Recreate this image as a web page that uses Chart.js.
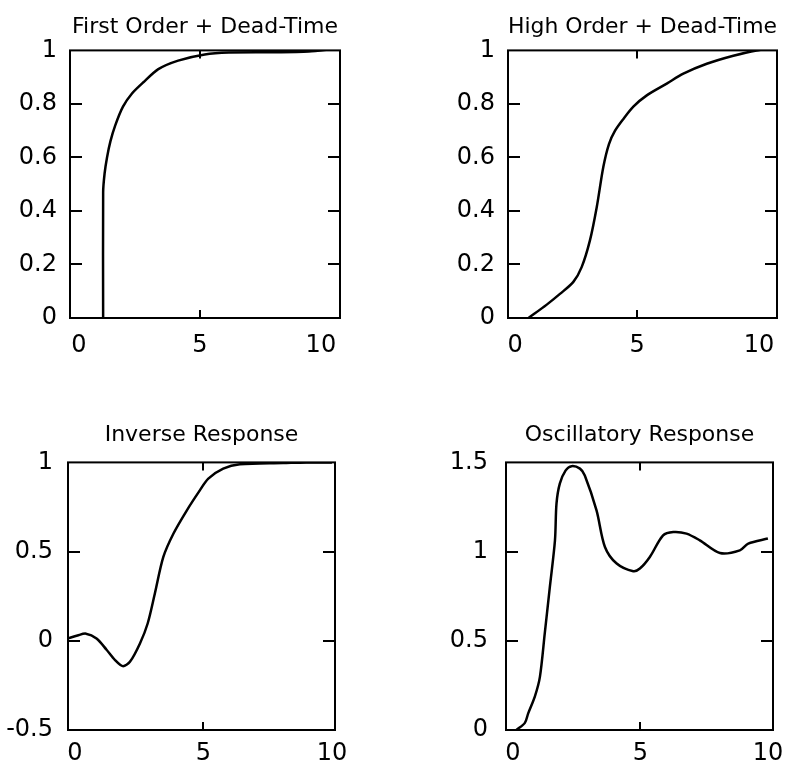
<!DOCTYPE html>
<html>
<head>
<meta charset="utf-8">
<script src="https://cdn.jsdelivr.net/npm/chart.js@4.4.1/dist/chart.umd.min.js"></script>
<style>
  html, body { margin: 0; padding: 0; background: #fff; }
  #wrap { position: relative; width: 797px; height: 765px; overflow: hidden; }
  canvas { position: absolute; }
</style>
</head>
<body>
<div id="wrap">
  <canvas id="c1" width="398" height="382" style="left:0;top:0;"></canvas>
  <canvas id="c2" width="399" height="382" style="left:398px;top:0;"></canvas>
  <canvas id="c3" width="398" height="383" style="left:0;top:382px;"></canvas>
  <canvas id="c4" width="399" height="383" style="left:398px;top:382px;"></canvas>
</div>
<script>
// ---- data ----
const titles = ["First Order + Dead-Time", "High Order + Dead-Time", "Inverse Response", "Oscillatory Response"];

const fodT = [1.0, 1.0, 1.06, 1.16, 1.3, 1.5, 1.82, 2.2, 2.65, 3.28, 4.1, 5.2, 6.2, 8.0, 9.5, 10.5];
const fodY = [0, 0.47, 0.54, 0.6, 0.66, 0.72, 0.79, 0.84, 0.88, 0.93, 0.962, 0.985, 0.992, 0.993, 0.996, 1.005];

const hodT = [0.55, 1.3, 1.84, 2.39, 2.73, 3.07, 3.35, 3.62, 3.85, 4.1, 4.45, 4.85, 5.4, 6.22, 6.9, 7.86, 8.95, 9.9, 10.52];
const hodY = [0, 0.05, 0.09, 0.135, 0.19, 0.29, 0.415, 0.565, 0.65, 0.7, 0.745, 0.79, 0.832, 0.876, 0.913, 0.95, 0.98, 1.0, 1.006];

const invT = [-0.28, 0.1, 0.43, 0.84, 1.23, 1.56, 1.86, 2.14, 2.53, 2.83, 3.11, 3.44, 3.83, 4.35, 4.86, 5.19, 5.77, 6.42, 8.1, 9.0, 10.0];
const invY = [0.013, 0.03, 0.04, 0.013, -0.05, -0.108, -0.142, -0.118, -0.015, 0.097, 0.265, 0.47, 0.6, 0.73, 0.843, 0.909, 0.965, 0.989, 0.996, 1.0, 1.0];

const oscT = [0.14, 0.47, 0.6, 0.86, 1.06, 1.25, 1.45, 1.65, 1.71, 1.84, 2.07, 2.3, 2.63, 2.82, 3.28, 3.61, 4.07, 4.72, 4.98, 5.37, 5.89, 6.29, 6.81, 7.33, 8.12, 8.9, 9.23, 10.0];
const oscY = [0, 0.04, 0.093, 0.187, 0.298, 0.541, 0.802, 1.063, 1.269, 1.381, 1.455, 1.479, 1.465, 1.427, 1.231, 1.026, 0.933, 0.89, 0.905, 0.97, 1.091, 1.11, 1.101, 1.063, 0.992, 1.007, 1.045, 1.073];

const xTicks = [0, 5, 10];
const yTicksTop = [0, 0.2, 0.4, 0.6, 0.8, 1];
const yTicksInv = [-0.5, 0, 0.5, 1];
const yTicksOsc = [0, 0.5, 1, 1.5];

// ---- inward tick marks + frame ----
const framePlugin = {
  id: 'frameTicks',
  afterDraw(chart) {
    const ctx = chart.ctx, a = chart.chartArea;
    const xs = chart.scales.x, ys = chart.scales.y;
    ctx.save();
    ctx.strokeStyle = '#000';
    ctx.lineWidth = 2;
    ctx.lineCap = 'butt';
    ctx.beginPath();
    ys.ticks.forEach(t => {
      if (t.value <= ys.min || t.value >= ys.max) return;
      const p = Math.round(ys.getPixelForValue(t.value));
      ctx.moveTo(a.left, p); ctx.lineTo(a.left + 12, p);
      ctx.moveTo(a.right, p); ctx.lineTo(a.right - 12, p);
    });
    xs.ticks.forEach((t, i) => {
      if (i === 0 || i === xs.ticks.length - 1) return;
      const p = Math.round(xs.getPixelForValue(t.value));
      ctx.moveTo(p, a.bottom); ctx.lineTo(p, a.bottom - 8);
      ctx.moveTo(p, a.top); ctx.lineTo(p, a.top + 8);
    });
    ctx.stroke();
    ctx.strokeRect(a.left, a.top, a.right - a.left, a.bottom - a.top);
    ctx.restore();
  }
};

const FONT = '"DejaVu Sans", Verdana, sans-serif';

function makeChart(id, title, t, y, cfg) {
  const canvas = document.getElementById(id);
  const W = canvas.width, H = canvas.height;
  return new Chart(canvas, {
    type: 'scatter',
    data: {
      datasets: [{
        data: t.map((v, i) => ({ x: v, y: y[i] })),
        showLine: true,
        borderColor: '#000',
        borderWidth: 2.5,
        pointRadius: 0,
        tension: cfg.tension,
        fill: false
      }]
    },
    options: {
      responsive: false,
      animation: false,
      events: [],
      layout: { padding: { left: 0, right: W - cfg.right, top: 0, bottom: 0 } },
      plugins: {
        legend: { display: false },
        tooltip: { enabled: false },
        title: {
          display: true,
          fullSize: false,
          text: title,
          color: '#000',
          font: { family: FONT, size: 22, weight: 'normal', lineHeight: 1.2 },
          padding: { top: cfg.titleTop - 13, bottom: cfg.top - cfg.titleTop - 13 }
        }
      },
      scales: {
        x: {
          type: 'linear',
          min: cfg.xmin, max: cfg.xmax,
          afterBuildTicks: s => { s.ticks = xTicks.map(v => ({ value: v })); },
          afterFit: s => { s.height = H - cfg.bottom; },
          grid: { display: false, drawTicks: false },
          border: { display: false },
          ticks: { color: '#000', padding: cfg.xpad, maxRotation: 0, autoSkip: false,
                   font: { family: FONT, size: 24 }, callback: v => String(v) }
        },
        y: {
          type: 'linear',
          min: cfg.ymin, max: cfg.ymax,
          afterBuildTicks: s => { s.ticks = cfg.yTicks.map(v => ({ value: v })); },
          afterFit: s => { s.width = cfg.left; },
          grid: { display: false, drawTicks: false },
          border: { display: false },
          ticks: { color: '#000', padding: cfg.ypad, autoSkip: false,
                   font: { family: FONT, size: 24 }, callback: v => String(v) }
        }
      }
    },
    plugins: [framePlugin]
  });
}

makeChart('c1', titles[0], fodT, fodY, {
  left: 70, right: 340, top: 50, bottom: 318, titleTop: 27,
  xmin: -0.37, xmax: 10.79, ymin: 0, ymax: 1, yTicks: yTicksTop,
  xpad: 13, ypad: 13, tension: 0.25
});
makeChart('c2', titles[1], hodT, hodY, {
  left: 110, right: 379, top: 50, bottom: 318, titleTop: 27,
  xmin: -0.29, xmax: 10.74, ymin: 0, ymax: 1, yTicks: yTicksTop,
  xpad: 13, ypad: 13, tension: 0.3
});
makeChart('c3', titles[2], invT, invY, {
  left: 68, right: 335, top: 80, bottom: 348, titleTop: 53,
  xmin: -0.27, xmax: 10.12, ymin: -0.5, ymax: 1, yTicks: yTicksInv,
  xpad: 9, ypad: 15, tension: 0.3
});
makeChart('c4', titles[3], oscT, oscY, {
  left: 108, right: 375, top: 80, bottom: 348, titleTop: 53,
  xmin: -0.27, xmax: 10.2, ymin: 0, ymax: 1.5, yTicks: yTicksOsc,
  xpad: 9, ypad: 18, tension: 0.3
});
</script>
</body>
</html>
